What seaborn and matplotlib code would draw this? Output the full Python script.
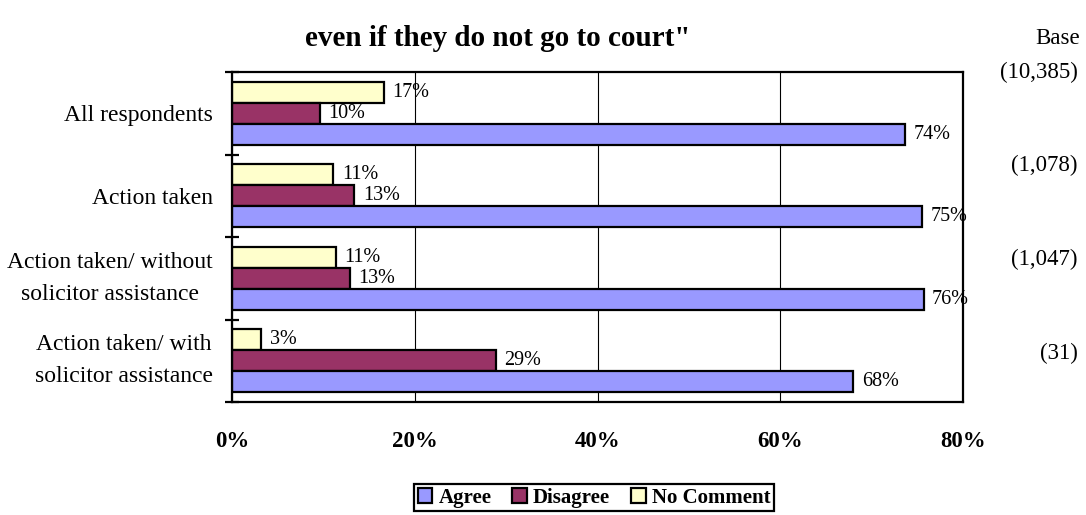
import numpy as np
import pandas as pd
import matplotlib
matplotlib.use("Agg")
import matplotlib.pyplot as plt
from matplotlib.ticker import FixedLocator
import seaborn as sns

# Datos
categories = ["All respondents", "Action taken",
              "Action taken/ without\nsolicitor assistance",
              "Action taken/ with\nsolicitor assistance"]
agree = [73.7, 75.5, 75.7, 68.0]
disagree = [9.6, 13.4, 12.9, 28.9]
no_comment = [16.6, 11.1, 11.4, 3.2]
labels_agree = ["74%", "75%", "76%", "68%"]
labels_disagree = ["10%", "13%", "13%", "29%"]
labels_no_comment = ["17%", "11%", "11%", "3%"]
bases = ["(10,385)", "(1,078)", "(1,047)", "(31)"]
x_ticks = [0, 20, 40, 60, 80]

sns.set_theme(style="white")
plt.rcParams["font.family"] = ["Liberation Serif", "DejaVu Serif"]
plt.rcParams["text.color"] = "black"
plt.rcParams["xtick.color"] = "black"
plt.rcParams["ytick.color"] = "black"

df = pd.DataFrame({
    "category": categories * 3,
    "response": ["Agree"] * 4 + ["Disagree"] * 4 + ["No Comment"] * 4,
    "value": agree + disagree + no_comment,
})

colors = {"Agree": "#9999FF", "Disagree": "#993366", "No Comment": "#FFFFCC"}
hue_order = ["No Comment", "Disagree", "Agree"]

fig = plt.figure(figsize=(10.86, 5.15), dpi=100)
ax = fig.add_axes([232 / 1086, 1 - 402 / 515, 731 / 1086, 330 / 515])

sns.barplot(data=df, x="value", y="category", hue="response", hue_order=hue_order,
            order=categories, orient="h", palette=colors, saturation=1, width=0.76, gap=0,
            edgecolor="black", linewidth=1.6, ax=ax)

# Etiquetas de las barras
bar_labels = {"No Comment": labels_no_comment, "Disagree": labels_disagree, "Agree": labels_agree}
for cont, name in zip(ax.containers, hue_order):
    ax.bar_label(cont, labels=bar_labels[name], padding=6, fontsize=14.5)

ax.set_xlim(0, 80)
ax.set_ylim(3.5, -0.5)
ax.xaxis.set_major_locator(FixedLocator(x_ticks))
ax.set_xticklabels([f"{t}%" for t in x_ticks], fontsize=16.5, fontweight="bold")
ax.tick_params(axis="x", direction="inout", length=10, width=1.6, pad=16)
ax.tick_params(axis="y", which="major", length=0, pad=14, labelsize=17)
ax.yaxis.set_minor_locator(FixedLocator(np.arange(-0.5, 4.0, 1.0)))
ax.tick_params(axis="y", which="minor", direction="inout", length=10, width=1.6, left=True)
for t in ax.get_yticklabels():
    t.set_multialignment("center")
    t.set_linespacing(1.7)
    if "\n" in t.get_text():
        t.set_verticalalignment("center")

ax.grid(axis="x", color="black", linewidth=0.8)
ax.set_axisbelow(True)
for s in ax.spines.values():
    s.set_color("black")
    s.set_linewidth(1.6)
ax.set_xlabel("")
ax.set_ylabel("")

# Leyenda
handles, labels = ax.get_legend_handles_labels()
ax.get_legend().remove()
order = [labels.index(n) for n in ["Agree", "Disagree", "No Comment"]]
leg = fig.legend([handles[i] for i in order], [labels[i] for i in order],
                 loc="upper center", bbox_to_anchor=(594 / 1086, 1 - 474 / 515), ncol=3,
                 frameon=True, fancybox=False, edgecolor="black", framealpha=1, borderpad=0.15,
                 handlelength=0.7, handleheight=0.7, handletextpad=0.3, columnspacing=1.0,
                 prop={"family": "Liberation Serif", "weight": "bold", "size": 15})
leg.get_frame().set_linewidth(1.6)

# Titulo y bases
fig.text(498 / 1086, 1 - 38 / 515, "even if they do not go to court\"", ha="center", va="center",
         fontsize=21, fontweight="bold")
fig.text(1080 / 1086, 1 - 38 / 515, "Base", ha="right", va="center", fontsize=16.5)
for b, yp in zip(bases, [72, 165, 259, 353]):
    fig.text(1078 / 1086, 1 - yp / 515, b, ha="right", va="center", fontsize=16.5)

fig.savefig("out.png", dpi=100)
